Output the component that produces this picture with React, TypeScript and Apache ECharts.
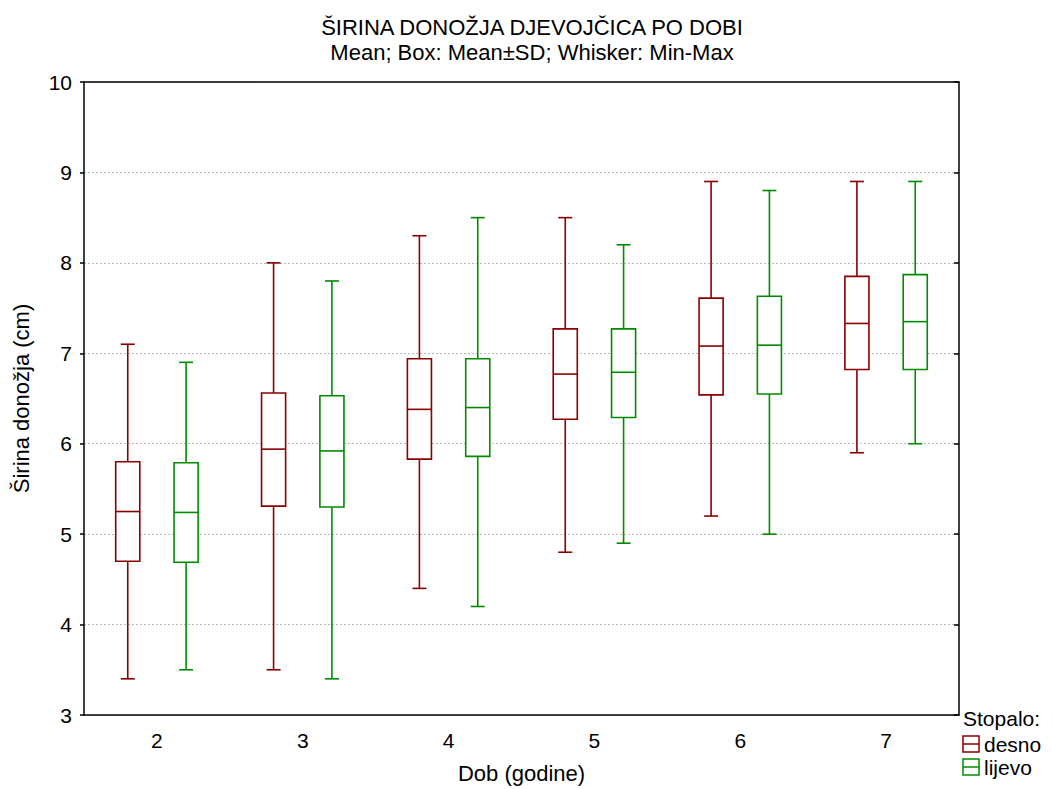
import React, { useEffect, useRef } from "react";
import * as echarts from "echarts";

const categories = ["2", "3", "4", "5", "6", "7"];
// [min, mean-SD, mean, mean+SD, max]
const desno = [
  [3.4, 4.7, 5.25, 5.8, 7.1],
  [3.5, 5.31, 5.94, 6.56, 8.0],
  [4.4, 5.83, 6.38, 6.94, 8.3],
  [4.8, 6.27, 6.77, 7.27, 8.5],
  [5.2, 6.54, 7.08, 7.61, 8.9],
  [5.9, 6.82, 7.33, 7.85, 8.9],
];
const lijevo = [
  [3.5, 4.69, 5.24, 5.79, 6.9],
  [3.4, 5.3, 5.92, 6.53, 7.8],
  [4.2, 5.86, 6.4, 6.94, 8.5],
  [4.9, 6.29, 6.79, 7.27, 8.2],
  [5.0, 6.55, 7.09, 7.63, 8.8],
  [6.0, 6.82, 7.35, 7.87, 8.9],
];
const seriesNames = ["desno", "lijevo"];
const colors = ["#8B0000", "#008C00"];
const yTicks = { min: 3, max: 10, interval: 1 };

const FONT = "'Liberation Sans', Arial, sans-serif";

function makeRender(offsetSign: number, color: string) {
  return (params: any, api: any) => {
    const idx = api.value(0);
    const band = api.size([1, 0])[0];
    const cx = api.coord([idx, 0])[0] + offsetSign * band * 0.2;
    const yMin = api.coord([idx, api.value(1)])[1];
    const yQ1 = api.coord([idx, api.value(2)])[1];
    const yMean = api.coord([idx, api.value(3)])[1];
    const yQ3 = api.coord([idx, api.value(4)])[1];
    const yMax = api.coord([idx, api.value(5)])[1];
    const bw = band * 0.165;
    const cw = band * 0.096;
    const style = { stroke: color, lineWidth: 1.6, fill: "none" };
    return {
      type: "group",
      children: [
        { type: "line", shape: { x1: cx, y1: yMax, x2: cx, y2: yQ3 }, style },
        { type: "line", shape: { x1: cx, y1: yQ1, x2: cx, y2: yMin }, style },
        { type: "line", shape: { x1: cx - cw / 2, y1: yMax, x2: cx + cw / 2, y2: yMax }, style },
        { type: "line", shape: { x1: cx - cw / 2, y1: yMin, x2: cx + cw / 2, y2: yMin }, style },
        { type: "rect", shape: { x: cx - bw / 2, y: yQ3, width: bw, height: yQ1 - yQ3 }, style: { stroke: color, lineWidth: 1.6, fill: "#fff" } },
        { type: "line", shape: { x1: cx - bw / 2, y1: yMean, x2: cx + bw / 2, y2: yMean }, style },
      ],
    };
  };
}

export default function App() {
  const ref = useRef<HTMLDivElement>(null);
  useEffect(() => {
    if (!ref.current) return;
    const chart = echarts.init(ref.current, null, { renderer: "svg" });
    const toData = (arr: number[][]) => arr.map((d, i) => [i, ...d]);
    const legendItems: any[] = [];
    seriesNames.forEach((n, i) => {
      const y = 736 + i * 23;
      legendItems.push(
        { type: "rect", shape: { x: 963, y, width: 16, height: 16 }, style: { stroke: colors[i], lineWidth: 1.5, fill: "#fff" } },
        { type: "line", shape: { x1: 963, y1: y + 8, x2: 979, y2: y + 8 }, style: { stroke: colors[i], lineWidth: 1.5 } },
        { type: "text", x: 984, y: y + 8, style: { text: n, font: `21px ${FONT}`, fill: "#000", verticalAlign: "middle" } }
      );
    });
    chart.setOption({
      animation: false,
      backgroundColor: "#fff",
      title: [
        {
          text: "ŠIRINA DONOŽJA DJEVOJČICA PO DOBI",
          left: 532,
          textAlign: "center",
          top: 16,
          padding: 0,
          textStyle: { fontFamily: FONT, fontSize: 22, fontWeight: "normal", color: "#000" },
        },
        {
          text: "Mean; Box: Mean±SD; Whisker: Min-Max",
          left: 532,
          textAlign: "center",
          top: 41,
          padding: 0,
          textStyle: { fontFamily: FONT, fontSize: 22, fontWeight: "normal", color: "#000" },
        },
      ],
      grid: { left: 84, right: 93, top: 82, bottom: 74, show: false, outerBoundsMode: "none", containLabel: false },
      xAxis: [
        {
          type: "category",
          data: categories,
          name: "Dob (godine)",
          nameLocation: "middle",
          nameGap: 47,
          nameTextStyle: { fontFamily: FONT, fontSize: 22, color: "#000" },
          axisLine: { lineStyle: { color: "#000", width: 1.5 } },
          axisTick: { inside: true, alignWithLabel: true, length: 5, lineStyle: { color: "#000", width: 1.5 } },
          axisLabel: { fontFamily: FONT, fontSize: 21, color: "#000", margin: 15 },
        },
        {
          type: "category",
          data: categories,
          position: "top",
          axisLine: { lineStyle: { color: "#000", width: 1.5 } },
          axisTick: { inside: true, alignWithLabel: true, length: 5, lineStyle: { color: "#000", width: 1.5 } },
          axisLabel: { show: false },
        },
      ],
      yAxis: [
        {
          type: "value",
          min: yTicks.min,
          max: yTicks.max,
          interval: yTicks.interval,
          name: "Širina donožja (cm)",
          nameLocation: "middle",
          nameGap: 52,
          nameTextStyle: { fontFamily: FONT, fontSize: 22, color: "#000" },
          axisLine: { show: true, lineStyle: { color: "#000", width: 1.5 } },
          axisTick: { show: true, length: 4, lineStyle: { color: "#000", width: 1.5 } },
          axisLabel: { fontFamily: FONT, fontSize: 21, color: "#000", margin: 12 },
          splitLine: { show: true, lineStyle: { color: "#b8b8b8", type: [2, 2], width: 1 } },
        },
        {
          type: "value",
          min: yTicks.min,
          max: yTicks.max,
          interval: yTicks.interval,
          position: "right",
          axisLine: { show: true, lineStyle: { color: "#000", width: 1.5 } },
          axisTick: { show: true, inside: true, length: 5, lineStyle: { color: "#000", width: 1.5 } },
          axisLabel: { show: false },
          splitLine: { show: false },
        },
      ],
      series: [
        {
          name: seriesNames[0],
          type: "custom",
          renderItem: makeRender(-1, colors[0]),
          encode: { x: 0, y: [1, 2, 3, 4, 5] },
          data: toData(desno),
          z: 3,
        },
        {
          name: seriesNames[1],
          type: "custom",
          renderItem: makeRender(1, colors[1]),
          encode: { x: 0, y: [1, 2, 3, 4, 5] },
          data: toData(lijevo),
          z: 3,
        },
      ],
      graphic: [
        { type: "text", x: 963, y: 708, style: { text: "Stopalo:", font: `21px ${FONT}`, fill: "#000" } },
        ...legendItems,
      ],
    });
    return () => chart.dispose();
  }, []);
  return <div ref={ref} style={{ width: 1052, height: 789, position: "absolute", left: 0, top: 0 }} />;
}
